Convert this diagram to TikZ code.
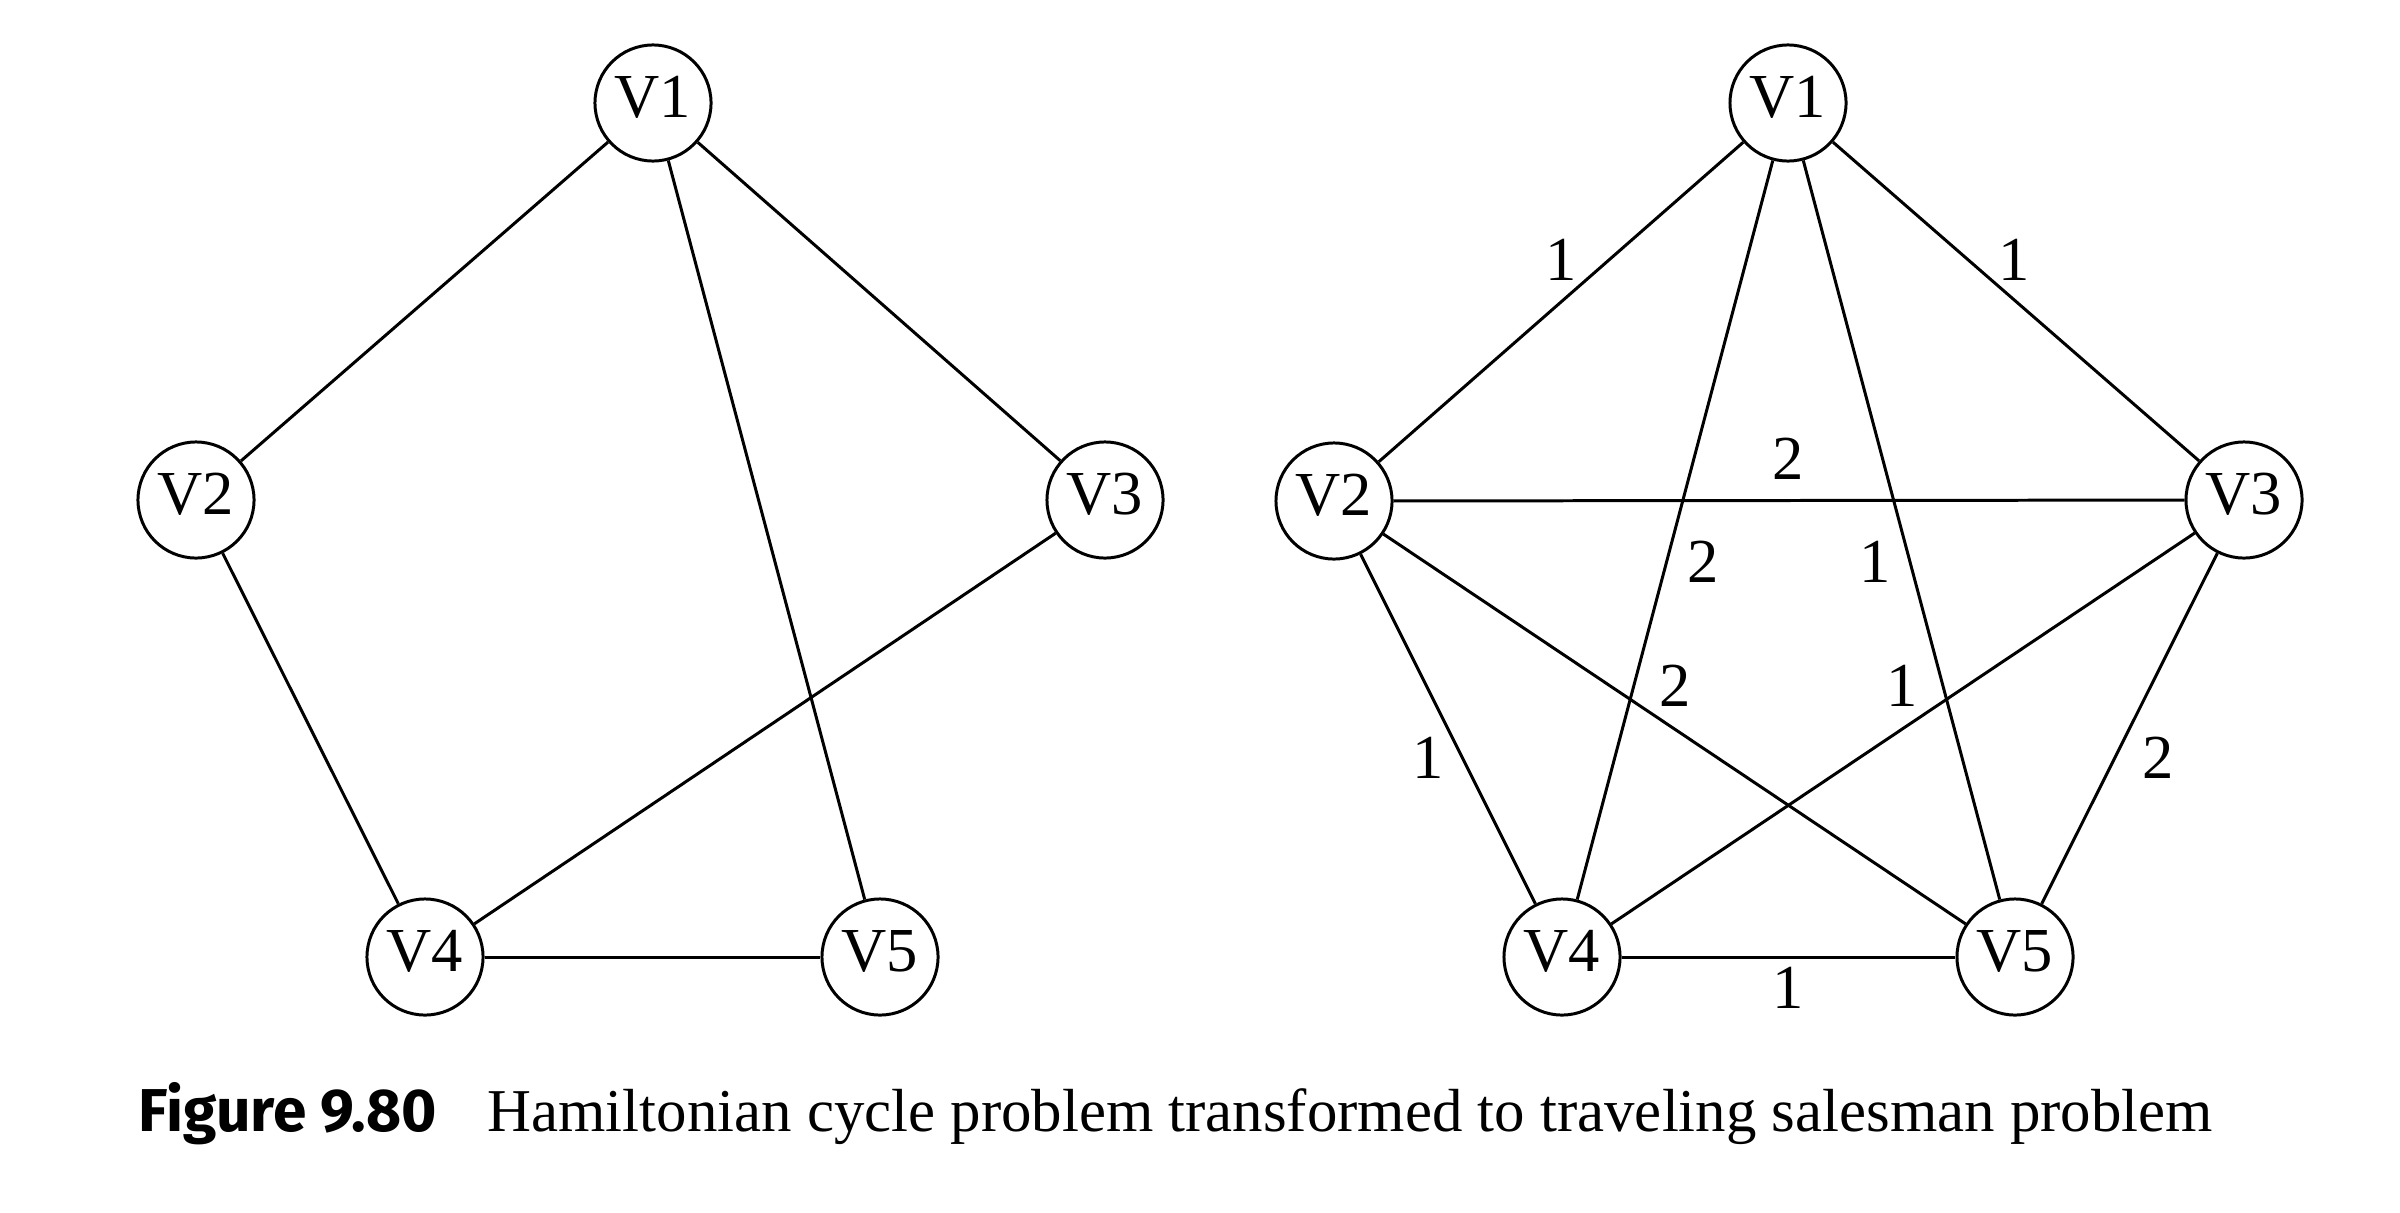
\documentclass[tikz,border=0pt]{standalone}
\usepackage{fontspec}
\setmainfont{Liberation Serif}
\newfontfamily\capsans{Fira Sans}
\begin{document}
\begin{tikzpicture}[x=0.01cm,y=-0.01cm,
  vtx/.style={circle,draw,line width=0.85pt,minimum size=1.16cm,inner sep=0pt,
    font=\fontsize{17.8}{20}\selectfont,text height=11.8pt,text depth=3.4pt},
  wt/.style={font=\fontsize{17.8}{20}\selectfont,inner sep=0pt},
  edge/.style={line width=0.85pt}]
\useasboundingbox (0,0) rectangle (2400,1212);
% left graph
\node[vtx] (a1) at (653,103) {V1};
\node[vtx] (a2) at (196,500) {V2};
\node[vtx] (a3) at (1105,500) {V3};
\node[vtx] (a4) at (425,957) {V4};
\node[vtx] (a5) at (880,957) {V5};
\draw[edge] (a1) -- (a2);
\draw[edge] (a1) -- (a3);
\draw[edge] (a1) -- (a5);
\draw[edge] (a2) -- (a4);
\draw[edge] (a3) -- (a4);
\draw[edge] (a4) -- (a5);
% right graph
\node[vtx] (b1) at (1788,103) {V1};
\node[vtx] (b2) at (1334,501) {V2};
\node[vtx] (b3) at (2244,500) {V3};
\node[vtx] (b4) at (1562,957) {V4};
\node[vtx] (b5) at (2015,957) {V5};
\draw[edge] (b1) -- (b2);
\draw[edge] (b1) -- (b3);
\draw[edge] (b1) -- (b4);
\draw[edge] (b1) -- (b5);
\draw[edge] (b2) -- (b3);
\draw[edge] (b2) -- (b4);
\draw[edge] (b2) -- (b5);
\draw[edge] (b3) -- (b4);
\draw[edge] (b3) -- (b5);
\draw[edge] (b4) -- (b5);
% weights
\node[wt] (w12) at (1561,260) {1};
\node[wt] (w13) at (2014,260) {1};
\node[wt] (w23) at (1788,459) {2};
\node[wt] (w14) at (1703,562) {2};
\node[wt] (w15) at (1875,562) {1};
\node[wt] (w25) at (1675,686) {2};
\node[wt] (w34) at (1902,686) {1};
\node[wt] (w24) at (1428,758) {1};
\node[wt] (w35) at (2158,758) {2};
\node[wt] (w45) at (1788,988) {1};
% caption
\node[anchor=base west,inner sep=0pt,font=\capsans\bfseries\fontsize{17.2}{20}\selectfont] (fig) at (138,1131) {Figure 9.80};
\node[anchor=base west,inner sep=0pt,font=\fontsize{17.3}{20}\selectfont] (cap) at (487,1131) {Hamiltonian cycle problem transformed to traveling salesman problem};
\end{tikzpicture}
\end{document}
